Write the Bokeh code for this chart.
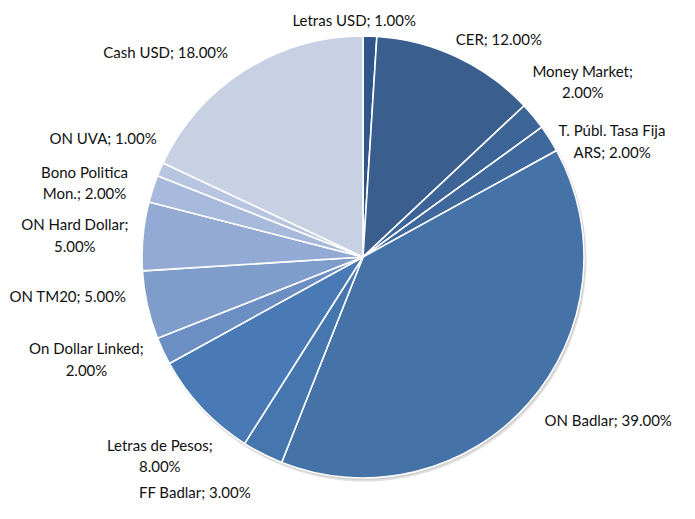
import numpy as np
from bokeh.plotting import figure
from bokeh.models import Range1d, ColumnDataSource
from bokeh.core.properties import value
from bokeh.embed import file_html
from bokeh.resources import INLINE

# ---- data ----
categories = ["Letras USD", "CER", "Money Market", "T. Públ. Tasa Fija ARS", "ON Badlar",
              "FF Badlar", "Letras de Pesos", "On Dollar Linked", "ON TM20", "ON Hard Dollar",
              "Bono Politica Mon.", "ON UVA", "Cash USD"]
shares = [1.0, 12.0, 2.0, 2.0, 39.0, 3.0, 8.0, 2.0, 5.0, 5.0, 2.0, 1.0, 18.0]
label_texts = ["Letras USD; 1.00%", "CER; 12.00%", "Money Market;\n2.00%",
               "T. Públ. Tasa Fija\nARS; 2.00%", "ON Badlar; 39.00%", "FF Badlar; 3.00%",
               "Letras de Pesos;\n8.00%", "On Dollar Linked;\n2.00%", "ON TM20; 5.00%",
               "ON Hard Dollar;\n5.00%", "Bono Politica\nMon.; 2.00%", "ON UVA; 1.00%",
               "Cash USD; 18.00%"]

# ---- style / layout ----
colors = ["#30558a", "#3a5f8f", "#3c6497", "#3f689d", "#4573a8", "#4676ae", "#4a7ab6",
          "#6b8ec3", "#7e9dcb", "#93abd4", "#a8badb", "#b7c5e0", "#c8d1e4"]
# label centre offsets from pie centre (reference pixels; +x right, +y down)
label_dx = [-9, 139, 225, 255, 251, -172, -208, -283, -302, -295, -285, -266, -202]
label_dy = [-245, -225, -181, -120, 168, 243, 205, 105, 40, -23, -77, -123, -212]
sx, sy = 0.977, 0.969

W, H = 679, 503
cx, cy = 362.5, H - 256.5
R = 221

p = figure(width=W, height=H, output_backend="svg", toolbar_location=None,
           x_range=Range1d(0, W), y_range=Range1d(0, H), min_border=0)
p.axis.visible = False
p.grid.visible = False
p.outline_line_color = None
p.background_fill_color = "white"

vals = np.array(shares)
cum = np.concatenate([[0], np.cumsum(vals)]) / vals.sum() * 2 * np.pi
start = np.pi / 2 - cum[:-1]
end = np.pi / 2 - cum[1:]

# soft shadow
p.circle(x=[cx + 1.5], y=[cy - 2.5], radius=R + 1, fill_color="#000000", fill_alpha=0.12,
         line_color=None)
p.circle(x=[cx + 0.8], y=[cy - 1.2], radius=R + 0.5, fill_color="#000000", fill_alpha=0.10,
         line_color=None)

src = ColumnDataSource(dict(start=start, end=end, color=colors, cat=categories))
p.wedge(x=cx, y=cy, radius=R, start_angle="start", end_angle="end", direction="clock",
        fill_color="color", line_color="white", line_width=1.6, source=src)

lsrc = ColumnDataSource(dict(x=[cx + d * sx for d in label_dx],
                             y=[cy - d * sy for d in label_dy], t=label_texts))
p.text(x="x", y="y", text="t", source=lsrc, text_font=value("Lato"),
       text_font_size="15px", text_color="#111111", text_align="center",
       text_baseline="middle", text_line_height=1.2)

open("out.html", "w").write(file_html(p, INLINE))
